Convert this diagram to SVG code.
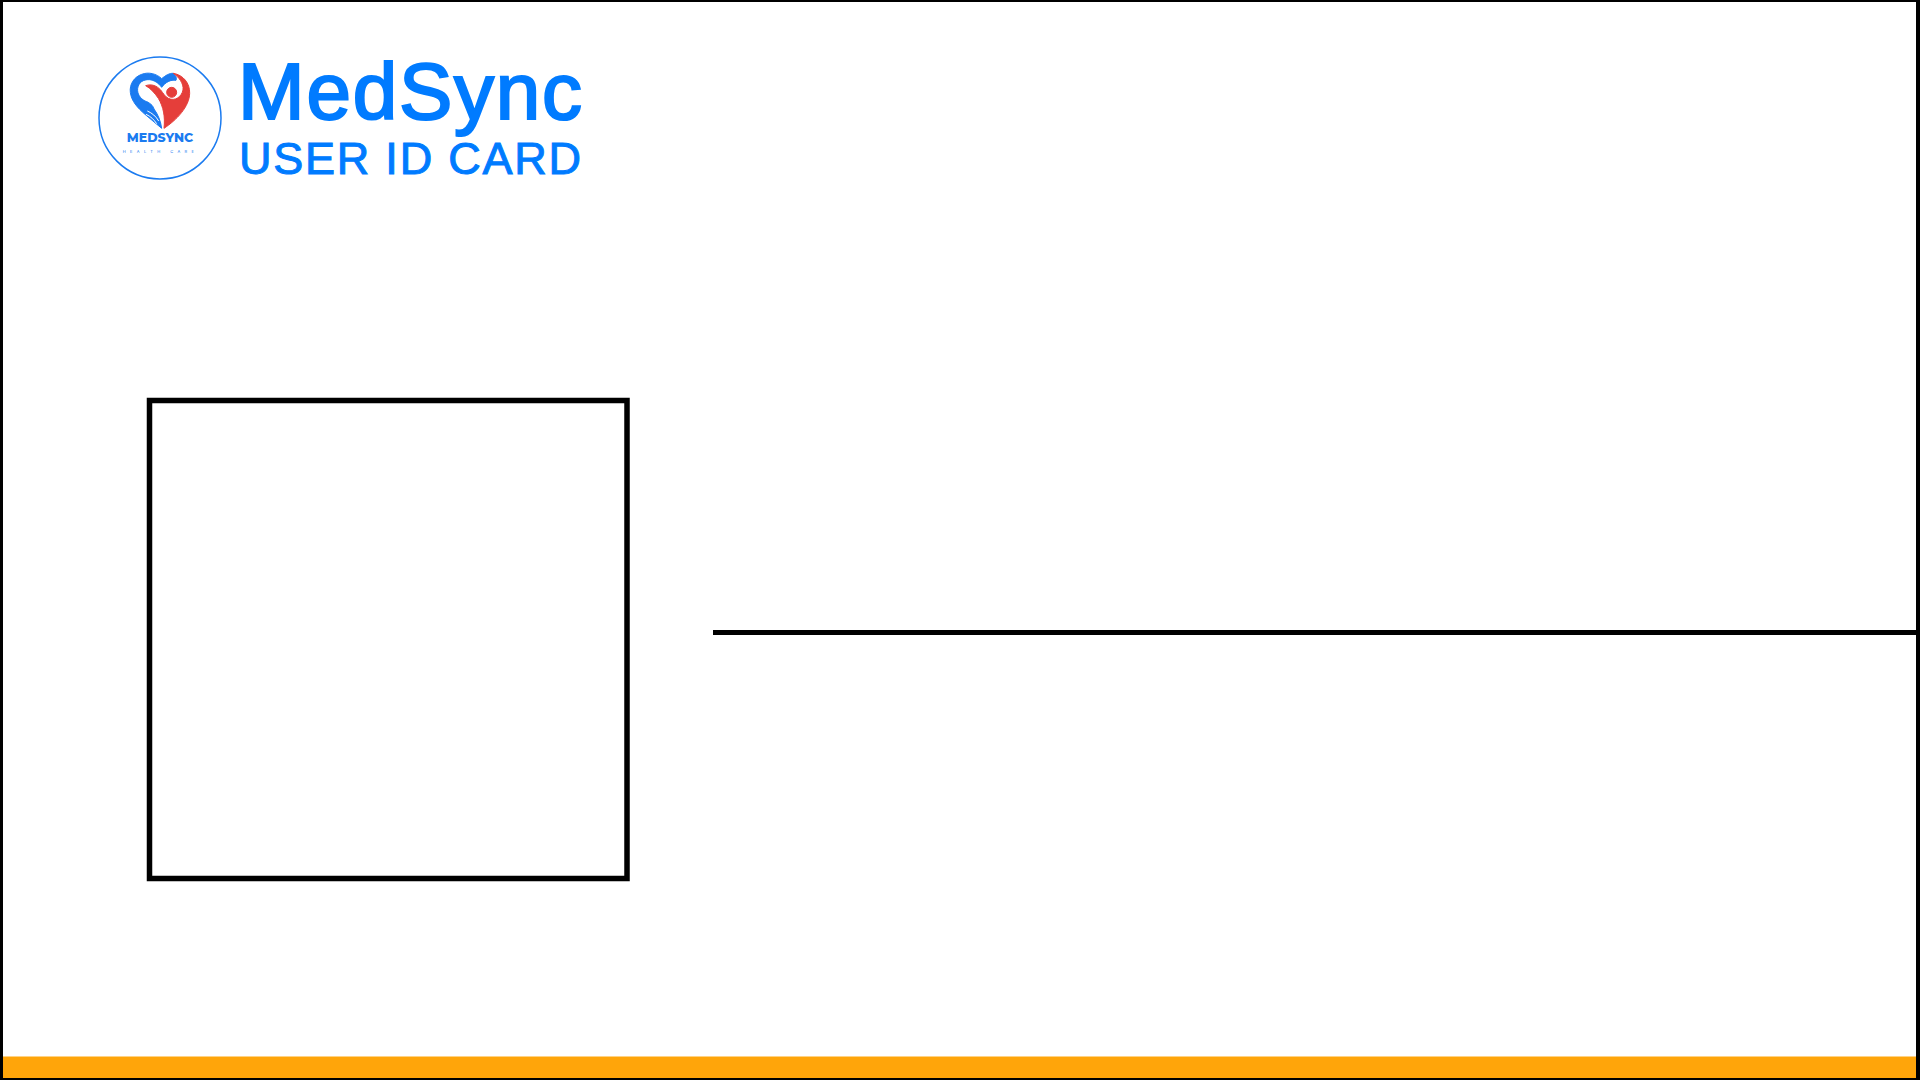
<svg xmlns="http://www.w3.org/2000/svg" width="1920" height="1080" viewBox="0 0 1920 1080">
<style>
.brand{font-family:"Liberation Sans",Arial,sans-serif;fill:#007bff;stroke:#007bff}
.blue{fill:#1b7bf0;stroke:#1b7bf0;stroke-width:3}
.red{fill:#e53e3a;stroke:#e53e3a;stroke-width:3}
</style>
<rect width="1920" height="1080" fill="#fff"/>
<g id="footer-band"><rect x="3" y="1056.5" width="1913" height="22" fill="#ffa50a"/></g>
<g id="frame">
<rect x="0" y="0" width="1920" height="2" fill="#000"/>
<rect x="0" y="1078" width="1920" height="2" fill="#000"/>
<rect x="0" y="0" width="3" height="1080" fill="#000"/>
<rect x="1916" y="0" width="4" height="1080" fill="#000"/>
</g>
<g id="logo">
<circle cx="160" cy="118" r="61" fill="#fff" stroke="#1b7bf0" stroke-width="1.5"/>
<g transform="translate(90 45) scale(.33333)">
<path class="blue" d="M215 101C200 86 175 80 155 88C132 96 118 118 121 142C124 168 142 188 165 208L215 250C212 228 204 208 192 192C190 182 178 172 165 168C150 160 141 146 143 130C146 112 160 103 178 104C192 105 206 114 215 127C226 112 242 103 258 106C262 100 256 90 250 85C238 84 226 92 215 101Z"/>
<path d="M172 198C186 204 198 214 206 228M168 208C182 214 192 224 200 236" fill="none" stroke="#fff" stroke-width="3"/>
<path class="red" d="M250 85C280 90 300 115 299 145C298 185 260 225 222 250C226 215 220 185 205 160C195 145 182 130 167 122C185 116 200 122 212 135C220 145 225 155 235 160C255 170 275 155 279 135C282 115 265 95 250 85Z"/>
<circle class="red" cx="245" cy="142" r="15"/>
</g>
<text x="160" y="142" text-anchor="middle" font-family="Montserrat,Inter,'Liberation Sans',sans-serif" font-size="12.500" font-weight="800" fill="#1b7bf0">MEDSYNC</text>
<text x="160.500" y="153" text-anchor="middle" font-family="Inter,'Liberation Sans',sans-serif" font-size="4" letter-spacing="4.400" fill="#1b7bf0">HEALTH CARE</text>
</g>
<g id="title">
<text class="brand" x="238" y="118.500" font-size="80" stroke-width="2.200" textLength="344">MedSync</text>
<text class="brand" x="239" y="173.500" font-size="45" stroke-width="1" textLength="342">USER ID CARD</text>
</g>
<g id="photo-box"><rect x="149.500" y="400.500" width="477.500" height="478" fill="#fff" stroke="#000" stroke-width="5.500"/></g>
<g id="signature-line"><rect x="713" y="630" width="1203" height="5" fill="#000"/></g>
</svg>
